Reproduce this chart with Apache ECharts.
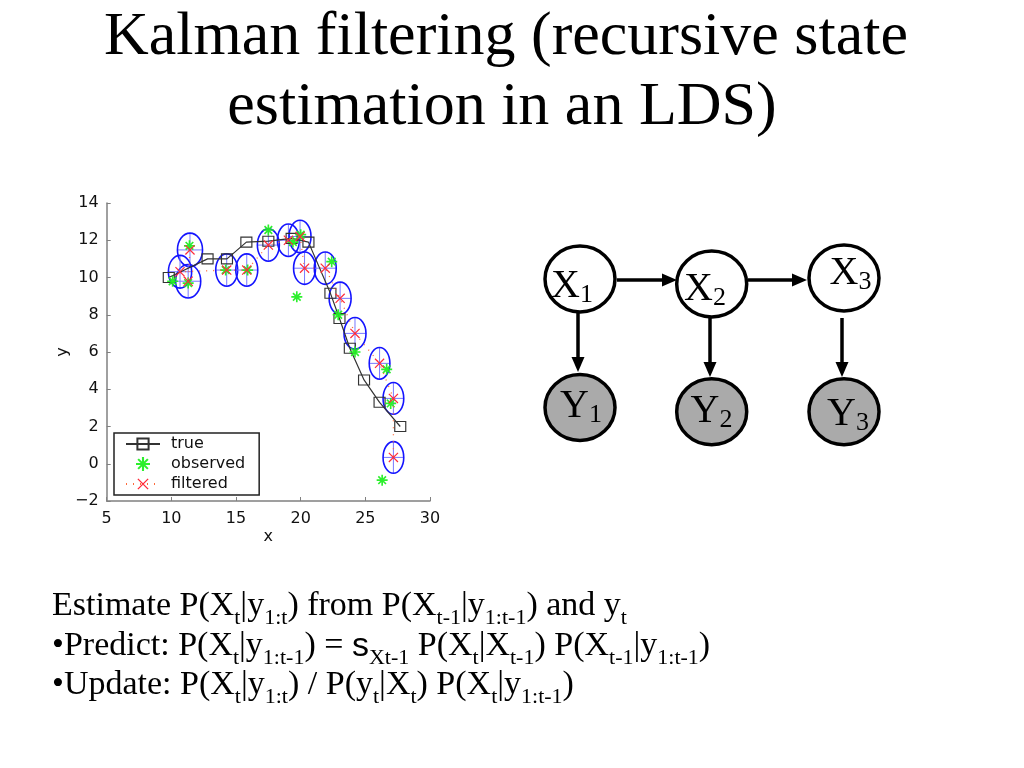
<!DOCTYPE html>
<html><head><meta charset="utf-8">
<script src="https://cdn.jsdelivr.net/npm/echarts@6/dist/echarts.min.js"></script>
<style>html,body{margin:0;padding:0;background:#fff}#c{width:1024px;height:768px}</style>
</head><body><div id="c"></div>
<script>
// ---- data ----
var trueX = [9.8, 12.8, 14.3, 15.8, 17.5, 19.3, 20.6, 22.3, 23.0, 23.8, 24.9, 26.1, 27.7];
var trueY = [10.0, 11.0, 11.0, 11.9, 11.95, 12.1, 11.9, 9.15, 7.8, 6.2, 4.5, 3.3, 2.0];
var obsX = [11.4, 11.3, 10.1, 14.2, 15.9, 17.5, 19.4, 20.0, 19.7, 22.4, 22.9, 24.2, 26.65, 26.96, 26.3];
var obsY = [11.7, 9.7, 9.8, 10.4, 10.4, 12.55, 11.9, 12.3, 8.96, 10.85, 8.0, 6.0, 5.07, 3.24, -0.88];
var filtX = [11.44, 11.3, 10.67, 14.28, 15.83, 17.5, 19.05, 19.95, 20.3, 21.9, 23.05, 24.2, 26.1, 27.17, 27.17];
var filtY = [11.48, 9.8, 10.31, 10.4, 10.4, 11.74, 12.0, 12.2, 10.5, 10.5, 8.88, 7.0, 5.39, 3.51, 0.34];
var ellRx = [0.97, 0.97, 0.9, 0.85, 0.85, 0.85, 0.85, 0.85, 0.85, 0.85, 0.85, 0.85, 0.8, 0.8, 0.8];
var ellRy = [0.9, 0.9, 0.88, 0.87, 0.87, 0.87, 0.87, 0.87, 0.87, 0.87, 0.87, 0.85, 0.85, 0.85, 0.85];
var legendNames = ['true', 'observed', 'filtered'];
var xRange = [5, 30, 5];
var yRange = [-2, 14, 2];
var titleLines = ['Kalman filtering (recursive state', 'estimation in an LDS)'];

var truePts = trueX.map(function (x, i) { return [x, trueY[i]]; });
var obsPts = obsX.map(function (x, i) { return [x, obsY[i]]; });
var filtPts = filtX.map(function (x, i) { return [x, filtY[i]]; });
var ellPts = filtX.map(function (x, i) { return [x, filtY[i], ellRx[i], ellRy[i]]; });

var starPath = 'path://M8.5,0L11.5,0L11.5,20L8.5,20Z M0,8.5L20,8.5L20,11.5L0,11.5Z M2,4.1L4.1,2L18,15.9L15.9,18Z M15.9,2L18,4.1L4.1,18L2,15.9Z';
var xPath = 'path://M0,1.7L1.7,0L20,18.3L18.3,20Z M18.3,0L20,1.7L1.7,20L0,18.3Z';

var serif = 'Liberation Serif';
var sans = 'DejaVu Sans';

function richStyles(mainSize, subSize, lh) {
  return {
    m: { fontFamily: serif, fontSize: mainSize, lineHeight: lh, verticalAlign: 'top', fill: '#000' },
    s: { fontFamily: serif, fontSize: subSize, lineHeight: lh, verticalAlign: 'bottom', fill: '#000' },
    g: { fontFamily: 'Liberation Sans', fontSize: mainSize, lineHeight: lh, verticalAlign: 'top', fill: '#000' }
  };
}

var graphics = [];
// title
graphics.push({ type: 'text', x: 506, y: 38, style: { text: titleLines[0], align: 'center', verticalAlign: 'middle', fontFamily: serif, fontSize: 62, fill: '#000' } });
graphics.push({ type: 'text', x: 502, y: 108, style: { text: titleLines[1], align: 'center', verticalAlign: 'middle', fontFamily: serif, fontSize: 62, fill: '#000' } });

// graphical model diagram
var nodes = [
  { c: [580, 279], fill: '#fff', label: '{m|X}{s|1}', lp: [572, 287.5] },
  { c: [711.7, 284], fill: '#fff', label: '{m|X}{s|2}', lp: [705, 290.5] },
  { c: [844, 278], fill: '#fff', label: '{m|X}{s|3}', lp: [850.5, 274.5] },
  { c: [580, 407.5], fill: '#aaaaaa', label: '{m|Y}{s|1}', lp: [581, 407.5] },
  { c: [711.7, 411.7], fill: '#aaaaaa', label: '{m|Y}{s|2}', lp: [711.5, 412.5] },
  { c: [844, 411.7], fill: '#aaaaaa', label: '{m|Y}{s|3}', lp: [848, 415.5] }
];
nodes.forEach(function (n) {
  graphics.push({ type: 'ellipse', shape: { cx: n.c[0], cy: n.c[1], rx: 35, ry: 33 }, style: { fill: n.fill, stroke: '#000', lineWidth: 3.5 } });
  graphics.push({ type: 'text', x: n.lp[0], y: n.lp[1], style: { text: n.label, align: 'center', verticalAlign: 'middle', rich: richStyles(40, 26, 42) } });
});
var arrows = [
  { from: [617, 280], to: [677, 280] },
  { from: [748, 280], to: [807, 280] },
  { from: [578, 313], to: [578, 372] },
  { from: [710, 318], to: [710, 377] },
  { from: [842, 318], to: [842, 377] }
];
arrows.forEach(function (a) {
  var dx = a.to[0] - a.from[0], dy = a.to[1] - a.from[1];
  var L = Math.sqrt(dx * dx + dy * dy), ux = dx / L, uy = dy / L;
  var hl = 15, hw = 6.5;
  var bx = a.to[0] - ux * hl, by = a.to[1] - uy * hl;
  graphics.push({ type: 'line', shape: { x1: a.from[0], y1: a.from[1], x2: bx + ux * 1, y2: by + uy * 1 }, style: { stroke: '#000', lineWidth: 3.5 } });
  graphics.push({ type: 'polygon', shape: { points: [a.to, [bx - uy * hw, by + ux * hw], [bx + uy * hw, by - ux * hw]] }, style: { fill: '#000' } });
});

// bottom formulas
var formulaLines = [
  '{m|Estimate P(X}{s|t}{m||y}{s|1:t}{m|) from P(X}{s|t-1}{m||y}{s|1:t-1}{m|) and y}{s|t}',
  '{m|\u2022Predict: P(X}{s|t}{m||y}{s|1:t-1}{m|) = }{g|s}{s|Xt-1}{m| P(X}{s|t}{m||X}{s|t-1}{m|) P(X}{s|t-1}{m||y}{s|1:t-1}{m|)}',
  '{m|\u2022Update: P(X}{s|t}{m||y}{s|1:t}{m|) / P(y}{s|t}{m||X}{s|t}{m|) P(X}{s|t}{m||y}{s|1:t-1}{m|)}'
];
var formulaTops = [589.5, 629.5, 668.5];
formulaLines.forEach(function (t, i) {
  graphics.push({ type: 'text', x: 52, y: formulaTops[i], style: { text: t, align: 'left', verticalAlign: 'top', rich: richStyles(34, 22, 40) } });
});

var axisColor = '#808080';
var chart = echarts.init(document.getElementById('c'), null, { renderer: 'canvas' });
chart.setOption({
  animation: false,
  backgroundColor: '#fff',
  grid: { left: 106.7, right: 594, top: 203, bottom: 267, containLabel: false },
  xAxis: {
    type: 'value', min: xRange[0], max: xRange[1], interval: xRange[2],
    name: 'x', nameLocation: 'middle', nameGap: 28,
    nameTextStyle: { fontFamily: sans, fontSize: 16, color: '#111' },
    axisLine: { show: true, onZero: false, lineStyle: { color: axisColor, width: 1.5 } },
    axisTick: { show: true, inside: true, length: 4, lineStyle: { color: axisColor } },
    axisLabel: { fontFamily: sans, fontSize: 16, color: '#111', margin: 10 },
    splitLine: { show: false }
  },
  yAxis: {
    type: 'value', min: yRange[0], max: yRange[1], interval: yRange[2],
    name: 'y', nameLocation: 'middle', nameGap: 33, nameRotate: 90,
    nameTextStyle: { fontFamily: sans, fontSize: 16, color: '#111' },
    axisLine: { show: true, onZero: false, lineStyle: { color: axisColor, width: 1.5 } },
    axisTick: { show: true, inside: true, length: 4, lineStyle: { color: axisColor } },
    axisLabel: { fontFamily: sans, fontSize: 16, color: '#111', margin: 8,
      formatter: function (v) { return String(v).replace('-', '\u2212'); } },
    splitLine: { show: false }
  },
  legend: {
    data: legendNames, orient: 'vertical', left: 114, top: 433,
    padding: [3, 14, 3, 11], itemGap: 4, itemWidth: 34, itemHeight: 14,
    borderColor: '#222', borderWidth: 1.5, backgroundColor: '#fff', borderRadius: 0,
    selectedMode: false,
    textStyle: { fontFamily: sans, fontSize: 16, color: '#111', padding: [0, 0, 0, 6] }
  },
  series: [
    {
      type: 'custom', name: 'cov', z: 1, clip: false, silent: true,
      data: ellPts,
      renderItem: function (params, api) {
        var c = api.coord([api.value(0), api.value(1)]);
        var s = api.size([api.value(2), api.value(3)]);
        var rx = s[0], ry = s[1];
        return {
          type: 'group', children: [
            { type: 'line', shape: { x1: c[0] - rx, y1: c[1], x2: c[0] + rx, y2: c[1] }, style: { stroke: '#7878ff', lineWidth: 1 } },
            { type: 'line', shape: { x1: c[0], y1: c[1] - ry, x2: c[0], y2: c[1] + ry }, style: { stroke: '#7878ff', lineWidth: 1 } },
            { type: 'ellipse', shape: { cx: c[0], cy: c[1], rx: rx, ry: ry }, style: { fill: 'none', stroke: '#1414ff', lineWidth: 1.6 } }
          ]
        };
      }
    },
    {
      type: 'line', name: legendNames[0], data: truePts, z: 3,
      symbol: 'rect', symbolSize: [11, 10], showAllSymbol: true,
      lineStyle: { color: '#333', width: 1.2 },
      itemStyle: { color: 'rgba(255,255,255,0)', borderColor: '#333', borderWidth: 1.1 }
    },
    {
      type: 'scatter', name: legendNames[1], data: obsPts, z: 4,
      symbol: starPath, symbolSize: 11,
      itemStyle: { color: '#22ee22', opacity: 0.95 }
    },
    {
      type: 'line', name: legendNames[2], data: filtPts, z: 5,
      symbol: xPath, symbolSize: 10, showAllSymbol: true,
      lineStyle: { color: '#ff6a3a', width: 1.3, type: [1, 6] },
      itemStyle: { color: '#ff2a3a' }
    }
  ],
  graphic: graphics
});
</script></body></html>
